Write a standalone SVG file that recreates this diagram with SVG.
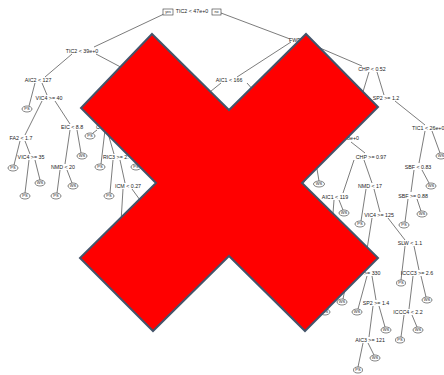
<svg xmlns="http://www.w3.org/2000/svg" width="444" height="375" viewBox="0 0 444 375">
<style>
.t{font-family:"Liberation Sans",Arial,sans-serif;font-size:5.3px;fill:#222;text-anchor:middle}
.s{text-anchor:start}
.lf ellipse{fill:#fff;stroke:#333;stroke-width:0.6}
.lf text{font-family:"Liberation Sans",Arial,sans-serif;font-size:4px;fill:#222;text-anchor:middle}
.bx rect{fill:#fff;stroke:#333;stroke-width:0.6}
.bx text{font-family:"Liberation Sans",Arial,sans-serif;font-size:3.6px;fill:#222;text-anchor:middle}
#edges line{stroke:#444;stroke-width:0.7}
</style>
<rect width="444" height="375" fill="#fff"/>
<g id="edges">
<line x1="164" y1="14" x2="94" y2="47"/>
<line x1="221" y1="13" x2="290" y2="39"/>
<line x1="291" y1="42" x2="237" y2="77"/>
<line x1="306" y1="42" x2="362" y2="66"/>
<line x1="221" y1="83" x2="200" y2="100"/>
<line x1="247" y1="83" x2="262" y2="100"/>
<line x1="369" y1="72" x2="362" y2="95"/>
<line x1="377" y1="72" x2="384" y2="95"/>
<line x1="395" y1="101" x2="425" y2="125"/>
<line x1="425" y1="131" x2="419" y2="163"/>
<line x1="432" y1="131" x2="440" y2="153"/>
<line x1="414" y1="170" x2="411" y2="192"/>
<line x1="422" y1="170" x2="429" y2="183"/>
<line x1="408" y1="199" x2="405" y2="222"/>
<line x1="417" y1="199" x2="421" y2="211"/>
<line x1="351" y1="142" x2="365" y2="153"/>
<line x1="354" y1="160" x2="343" y2="193"/>
<line x1="364" y1="160" x2="372" y2="183"/>
<line x1="334" y1="200" x2="331" y2="240"/>
<line x1="339" y1="200" x2="343" y2="210"/>
<line x1="366" y1="189" x2="361" y2="221"/>
<line x1="374" y1="189" x2="380" y2="212"/>
<line x1="372" y1="218" x2="364" y2="268"/>
<line x1="388" y1="218" x2="405" y2="240"/>
<line x1="405" y1="246" x2="401" y2="280"/>
<line x1="414" y1="246" x2="419" y2="270"/>
<line x1="413" y1="276" x2="409" y2="309"/>
<line x1="421" y1="276" x2="426" y2="297"/>
<line x1="404" y1="315" x2="401" y2="337"/>
<line x1="412" y1="315" x2="417" y2="327"/>
<line x1="367" y1="276" x2="358" y2="309"/>
<line x1="372" y1="276" x2="376" y2="300"/>
<line x1="373" y1="306" x2="369" y2="337"/>
<line x1="379" y1="306" x2="385" y2="327"/>
<line x1="363" y1="343" x2="358" y2="367"/>
<line x1="368" y1="343" x2="374" y2="355"/>
<line x1="345" y1="289" x2="343" y2="299"/>
<line x1="328" y1="300" x2="326" y2="309"/>
<line x1="313" y1="169" x2="302" y2="185"/>
<line x1="317" y1="169" x2="319" y2="181"/>
<line x1="72" y1="54" x2="45" y2="77"/>
<line x1="96" y1="54" x2="130" y2="72"/>
<line x1="35" y1="83" x2="29" y2="106"/>
<line x1="42" y1="83" x2="47" y2="95"/>
<line x1="42" y1="101" x2="25" y2="135"/>
<line x1="55" y1="101" x2="70" y2="124"/>
<line x1="20" y1="141" x2="14" y2="165"/>
<line x1="25" y1="141" x2="30" y2="154"/>
<line x1="29" y1="160" x2="25" y2="193"/>
<line x1="35" y1="160" x2="40" y2="180"/>
<line x1="70" y1="130" x2="65" y2="164"/>
<line x1="77" y1="130" x2="81" y2="153"/>
<line x1="60" y1="170" x2="57" y2="193"/>
<line x1="67" y1="170" x2="72" y2="183"/>
<line x1="97" y1="130" x2="93" y2="133"/>
<line x1="105" y1="130" x2="101" y2="164"/>
<line x1="107" y1="130" x2="114" y2="154"/>
<line x1="113" y1="160" x2="110" y2="193"/>
<line x1="120" y1="160" x2="125" y2="183"/>
<line x1="123" y1="189" x2="121" y2="222"/>
<line x1="132" y1="189" x2="140" y2="200"/>
</g>
<g id="yes" class="bx"><rect x="163" y="9" width="10" height="6"/><text x="168" y="13.3">yes</text></g>
<g id="no" class="bx"><rect x="212" y="9" width="9" height="6"/><text x="216.5" y="13.3">no</text></g>
<g id="n1"><text class="t" x="192" y="13">TIC2 &lt; 47e+0</text></g>
<g id="n2"><text class="t" x="82" y="53">TIC2 &lt; 39e+0</text></g>
<g id="n3"><text class="t" x="38" y="82">AIC2 &lt; 127</text></g>
<g id="n4"><text class="t" x="49" y="100">VIC4 &gt;= 40</text></g>
<g id="n5"><text class="t" x="21" y="140">FA2 &lt; 1.7</text></g>
<g id="n6"><text class="t" x="31" y="159">VIC4 &gt;= 35</text></g>
<g id="n7"><text class="t" x="72" y="129">EIC &lt; 8.8</text></g>
<g id="n8"><text class="t" x="63" y="169">NMD &lt; 20</text></g>
<g id="n9"><text class="t s" x="96" y="129">C</text></g>
<g id="n10"><text class="t s" x="103" y="159">RIC3 &gt;= 2.</text></g>
<g id="n11"><text class="t" x="128" y="188">ICM &lt; 0.27</text></g>
<g id="n12"><text class="t s" x="289" y="42">FWD</text></g>
<g id="n13"><text class="t" x="229" y="82">AIC1 &lt; 166</text></g>
<g id="n14"><text class="t" x="372" y="71">CHP &lt; 0.52</text></g>
<g id="n15"><text class="t" x="386" y="100">SP2 &gt;= 1.2</text></g>
<g id="n16"><text class="t s" x="412" y="130">TIC1 &lt; 26e+0</text></g>
<g id="n17"><text class="t s" x="347" y="140">8e+0</text></g>
<g id="n18"><text class="t" x="371" y="159">CHP &gt;= 0.97</text></g>
<g id="n19"><text class="t s" x="313" y="168">5</text></g>
<g id="n20"><text class="t" x="335" y="199">AIC1 &lt; 119</text></g>
<g id="n21"><text class="t" x="370" y="188">NMD &lt; 17</text></g>
<g id="n22"><text class="t" x="379" y="217">VIC4 &gt;= 125</text></g>
<g id="n23"><text class="t" x="418" y="169">SBF &lt; 0.83</text></g>
<g id="n24"><text class="t" x="413" y="198">SBF &gt;= 0.88</text></g>
<g id="n25"><text class="t" x="410" y="245">SLW &lt; 1.1</text></g>
<g id="n26"><text class="t s" x="364" y="275">&gt;= 330</text></g>
<g id="n27"><text class="t" x="417" y="275">ICCC3 &gt;= 2.6</text></g>
<g id="n28"><text class="t" x="376" y="305">SP2 &gt;= 1.4</text></g>
<g id="n29"><text class="t" x="408" y="314">ICCC4 &lt; 2.2</text></g>
<g id="n30"><text class="t" x="370" y="342">AIC3 &gt;= 121</text></g>
<g id="l1" class="lf"><ellipse cx="27" cy="109" rx="5" ry="3"/><text x="27" y="110.4">PS</text></g>
<g id="l2" class="lf"><ellipse cx="13" cy="168" rx="5" ry="3"/><text x="13" y="169.4">PS</text></g>
<g id="l3" class="lf"><ellipse cx="25" cy="196" rx="5" ry="3"/><text x="25" y="197.4">PS</text></g>
<g id="l4" class="lf"><ellipse cx="40" cy="183" rx="5" ry="3"/><text x="40" y="184.4">WS</text></g>
<g id="l5" class="lf"><ellipse cx="82" cy="156" rx="5" ry="3"/><text x="82" y="157.4">WS</text></g>
<g id="l6" class="lf"><ellipse cx="56" cy="196" rx="5" ry="3"/><text x="56" y="197.4">PS</text></g>
<g id="l7" class="lf"><ellipse cx="73" cy="186" rx="5" ry="3"/><text x="73" y="187.4">WS</text></g>
<g id="l8" class="lf"><ellipse cx="90" cy="136" rx="5" ry="3"/><text x="90" y="137.4">PS</text></g>
<g id="l9" class="lf"><ellipse cx="100" cy="167" rx="5" ry="3"/><text x="100" y="168.4">PS</text></g>
<g id="l10" class="lf"><ellipse cx="109" cy="196" rx="5" ry="3"/><text x="109" y="197.4">PS</text></g>
<g id="l11" class="lf"><ellipse cx="136" cy="167" rx="5" ry="3"/><text x="136" y="168.4">PS</text></g>
<g id="l12" class="lf"><ellipse cx="441" cy="156" rx="5" ry="3"/><text x="441" y="157.4">WS</text></g>
<g id="l13" class="lf"><ellipse cx="431" cy="186" rx="5" ry="3"/><text x="431" y="187.4">WS</text></g>
<g id="l14" class="lf"><ellipse cx="422" cy="214" rx="5" ry="3"/><text x="422" y="215.4">WS</text></g>
<g id="l15" class="lf"><ellipse cx="404" cy="225" rx="5" ry="3"/><text x="404" y="226.4">PS</text></g>
<g id="l16" class="lf"><ellipse cx="319" cy="184" rx="5.5" ry="3"/><text x="319" y="185.4">WS</text></g>
<g id="l17" class="lf"><ellipse cx="344" cy="213" rx="5" ry="3"/><text x="344" y="214.4">WS</text></g>
<g id="l18" class="lf"><ellipse cx="360" cy="224" rx="5" ry="3"/><text x="360" y="225.4">PS</text></g>
<g id="l19" class="lf"><ellipse cx="342" cy="302" rx="5" ry="3"/><text x="342" y="303.4">WS</text></g>
<g id="l20" class="lf"><ellipse cx="325" cy="312" rx="5" ry="3"/><text x="325" y="313.4">WS</text></g>
<g id="l21" class="lf"><ellipse cx="357" cy="312" rx="5" ry="3"/><text x="357" y="313.4">WS</text></g>
<g id="l22" class="lf"><ellipse cx="401" cy="283" rx="4.5" ry="3"/><text x="401" y="284.4">PS</text></g>
<g id="l23" class="lf"><ellipse cx="427" cy="300" rx="5" ry="3"/><text x="427" y="301.4">WS</text></g>
<g id="l24" class="lf"><ellipse cx="386" cy="330" rx="5" ry="3"/><text x="386" y="331.4">WS</text></g>
<g id="l25" class="lf"><ellipse cx="418" cy="330" rx="5" ry="3"/><text x="418" y="331.4">WS</text></g>
<g id="l26" class="lf"><ellipse cx="400" cy="340" rx="4.5" ry="3"/><text x="400" y="341.4">PS</text></g>
<g id="l27" class="lf"><ellipse cx="375" cy="358" rx="5" ry="3"/><text x="375" y="359.4">WS</text></g>
<g id="l28" class="lf"><ellipse cx="358" cy="370" rx="4.5" ry="3"/><text x="358" y="371.4">PS</text></g>
<g id="cross"><polygon points="152,34 229,110 306,34 378,107 302,183 378,258 305,331 229,256 153,331 80,258 156,183 81,108" fill="#ff0000" stroke="#44546a" stroke-width="2" stroke-linejoin="miter"/></g>
</svg>
